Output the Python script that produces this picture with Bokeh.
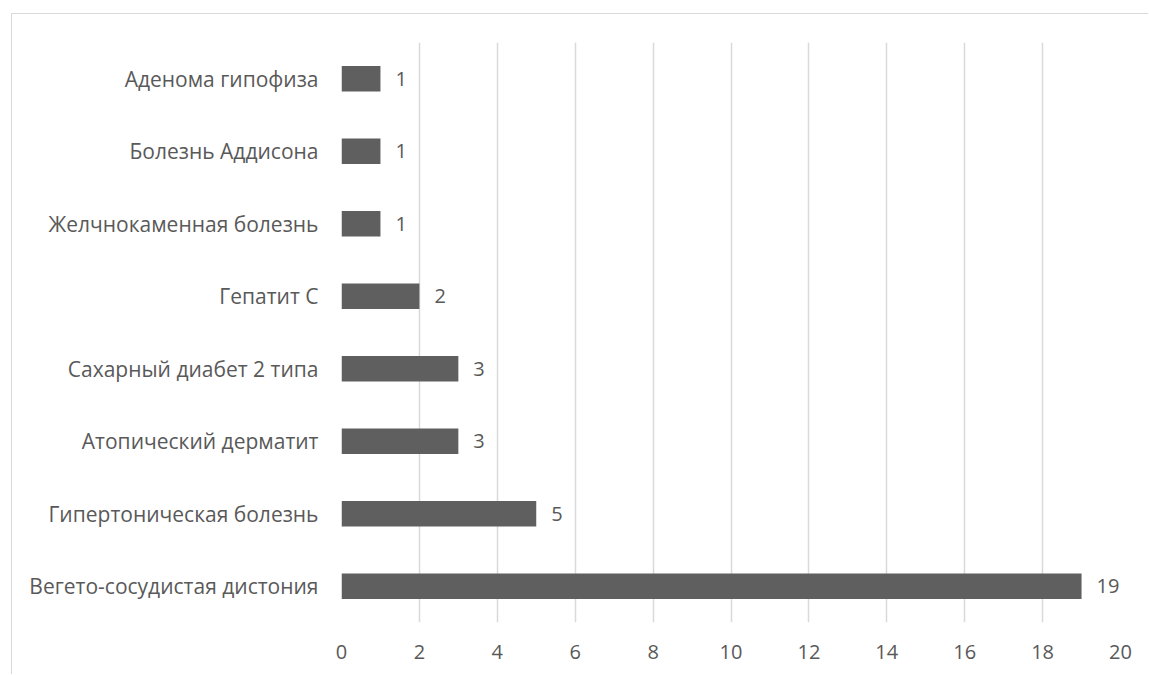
from bokeh.plotting import figure
from bokeh.models import ColumnDataSource, FixedTicker, LabelSet
from bokeh.core.properties import value
from bokeh.embed import file_html
from bokeh.resources import INLINE

# Diagnoses (top to bottom) and number of cases
categories = [
    "Аденома гипофиза",
    "Болезнь Аддисона",
    "Желчнокаменная болезнь",
    "Гепатит С",
    "Сахарный диабет 2 типа",
    "Атопический дерматит",
    "Гипертоническая болезнь",
    "Вегето-сосудистая дистония",
]
counts = [1, 1, 1, 2, 3, 3, 5, 19]
x_ticks = [0, 2, 4, 6, 8, 10, 12, 14, 16, 18, 20]

FONT = "Open Sans"
TEXT = "#595959"
GRID = "#d9d9d9"

source = ColumnDataSource(data=dict(
    cat=categories,
    n=counts,
    lbl=[str(v) for v in counts],
))

# Offset of the chart-area border from the page corner
OFF_X, OFF_Y = 12, 14

p = figure(
    width=1149 - OFF_X, height=675 - OFF_Y,
    y_range=list(reversed(categories)),
    x_range=(0, 20),
    output_backend="svg",
    toolbar_location=None,
    min_border_left=341 - OFF_X, min_border_right=29,
    min_border_top=42 - OFF_Y, min_border_bottom=53,
)
p.styles = {
    "margin-left": f"{OFF_X - 1}px",
    "margin-top": f"{OFF_Y - 1}px",
    "border-top": f"1px solid {GRID}",
    "border-left": f"1px solid {GRID}",
}
p.outline_line_color = None
p.background_fill_color = "white"
p.border_fill_color = "white"

p.hbar(y="cat", right="n", left=0, height=0.35, source=source,
       fill_color="#5f5f5f", line_color=None)

labels = LabelSet(x="n", y="cat", text="lbl", source=source,
                  x_offset=15, text_baseline="middle", text_align="left",
                  text_font=value(FONT), text_font_size="20px", text_color=TEXT)
p.add_layout(labels)

p.xaxis.ticker = FixedTicker(ticks=x_ticks)
p.xaxis.axis_line_color = None
p.xaxis.major_tick_line_color = None
p.xaxis.minor_tick_line_color = None
p.xaxis.major_label_text_font = FONT
p.xaxis.major_label_text_font_size = "20px"
p.xaxis.major_label_text_color = TEXT
p.xaxis.major_label_standoff = 16

p.yaxis.axis_line_color = None
p.yaxis.major_tick_line_color = None
p.yaxis.minor_tick_line_color = None
p.yaxis.major_label_text_font = FONT
p.yaxis.major_label_text_font_size = "21px"
p.yaxis.major_label_text_color = TEXT
p.yaxis.major_label_standoff = 17

p.xgrid.grid_line_color = GRID
p.xgrid.grid_line_width = 1.5
p.ygrid.grid_line_color = None

open("out.html", "w").write(file_html(p, INLINE))
